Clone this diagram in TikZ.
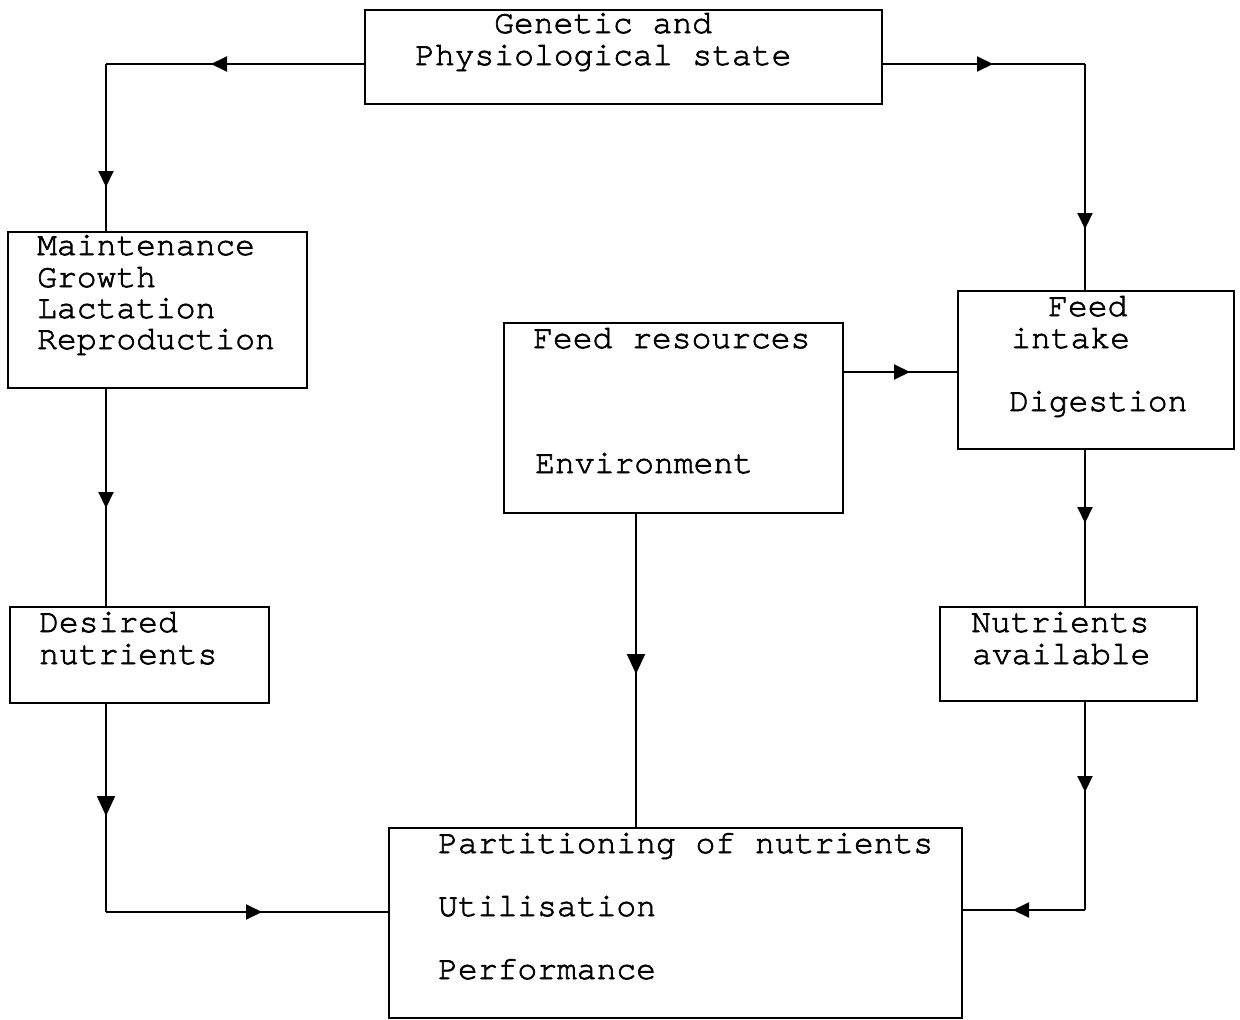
\documentclass[tikz,border=0pt]{standalone}
\usepackage{fontspec}
\setmonofont[FakeBold=2]{TeX Gyre Cursor}
\usetikzlibrary{arrows.meta,decorations.markings}
\tikzset{
  box/.style={draw, line width=2pt, rectangle, inner sep=0pt},
  txt/.style={anchor=base west, inner sep=0pt, font=\ttfamily\fontsize{33}{31}\selectfont},
  conn/.style={line width=2pt},
  arr/.style={conn, postaction={decorate},
    decoration={markings, mark=at position #1 with {\arrow{Triangle[length=16pt,width=15pt]}}}},
  bigarr/.style={conn, postaction={decorate},
    decoration={markings, mark=at position #1 with {\arrow{Triangle[length=20pt,width=18pt]}}}},
}
\begin{document}
\begin{tikzpicture}[x=1pt,y=-1pt]
\useasboundingbox (0,0) rectangle (1240,1020);
% boxes
\node[box, minimum width=517pt, minimum height=94pt] (gen) at (623.5,57) {};
\node[box, minimum width=299pt, minimum height=156pt] (maint) at (157.5,310) {};
\node[box, minimum width=259pt, minimum height=96pt] (des) at (139.5,655) {};
\node[box, minimum width=339pt, minimum height=190pt] (res) at (673.5,418) {};
\node[box, minimum width=276pt, minimum height=158pt] (intake) at (1096,370) {};
\node[box, minimum width=257pt, minimum height=94pt] (nutr) at (1068.5,654) {};
\node[box, minimum width=573pt, minimum height=190pt] (part) at (675.5,923) {};
% texts
\node[txt] (t1) at (494,33) {Genetic and};
\node[txt] (t2) at (415,65) {Physiological state};
\node[txt] (t3) at (37,255) {Maintenance};
\node[txt] (t4) at (37,287) {Growth};
\node[txt] (t5) at (37,318) {Lactation};
\node[txt] (t6) at (37,349) {Reproduction};
\node[txt] (t7) at (39,632) {Desired};
\node[txt] (t8) at (39,664) {nutrients};
\node[txt] (t9) at (533,348) {Feed resources};
\node[txt] (t10) at (535,473) {Environment};
\node[txt] (t11) at (1048,316) {Feed};
\node[txt] (t12) at (1011,348) {intake};
\node[txt] (t13) at (1009,411) {Digestion};
\node[txt] (t14) at (971,632) {Nutrients};
\node[txt] (t15) at (972,664) {available};
\node[txt] (t16) at (438,853) {Partitioning of nutrients};
\node[txt] (t17) at (438,916) {Utilisation};
\node[txt] (t18) at (438,979) {Performance};
% corner coordinates
\coordinate (gl) at (106,64);
\coordinate (gr) at (1085,64);
\coordinate (dl) at (106,912);
\coordinate (nr) at (1085,910);
\coordinate (yr) at (0,372);
\coordinate (xm) at (636,0);
% connectors
\draw[arr=153pt] (gen.west |- gl) -- (gl);
\draw[arr=123pt] (gl) -- (gl |- maint.north);
\draw[arr=110pt] (gen.east |- gr) -- (gr);
\draw[arr=165pt] (gr) -- (gr |- intake.north);
\draw[arr=119pt] (gl |- maint.south) -- (gl |- des.north);
\draw[bigarr=112pt] (gl |- des.south) -- (dl);
\draw[arr=156pt] (dl) -- (part.west |- dl);
\draw[bigarr=160pt] (xm |- res.south) -- (xm |- part.north);
\draw[arr=66pt] (res.east |- yr) -- (intake.west |- yr);
\draw[arr=73pt] (gr |- intake.south) -- (gr |- nutr.north);
\draw[arr=90pt] (gr |- nutr.south) -- (nr);
\draw[arr=72pt] (nr) -- (part.east |- nr);
\end{tikzpicture}
\end{document}
